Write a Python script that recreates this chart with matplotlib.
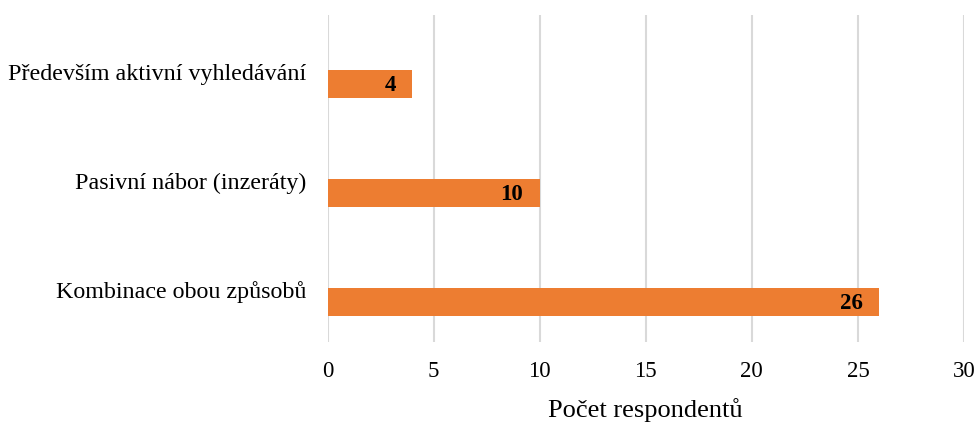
import matplotlib
matplotlib.use("Agg")
from matplotlib import pyplot as plt
from matplotlib.transforms import ScaledTranslation

categories = ["Kombinace obou způsobů", "Pasivní nábor (inzeráty)", "Především aktivní vyhledávání"]
values = [26, 10, 4]
xticks = [0, 5, 10, 15, 20, 25, 30]

plt.rcParams['font.family'] = ['Liberation Serif', 'DejaVu Serif']

fig = plt.figure(figsize=(9.78, 4.22), dpi=100)
ax = fig.add_axes([0.3349, 0.1896, 0.6508, 0.7749])

pos = list(range(len(categories)))
ax.barh(pos, values, height=0.26, color="#ED7D31", zorder=3)

for p, v in zip(pos, values):
    ax.annotate(str(v), (v, p), xytext=(-12, -1), textcoords="offset points",
                ha="right", va="center", fontsize=16.5, fontweight="bold", zorder=4)

ax.set_xlim(0, 30)
ax.set_ylim(-0.367, 2.633)
ax.set_xticks(xticks)
ax.set_xticklabels([str(t) for t in xticks], fontsize=16.5)
ax.set_yticks(pos)
ax.set_yticklabels(categories, fontsize=17.3)
ax.tick_params(axis="both", length=0)
ax.tick_params(axis="x", pad=14)
ax.tick_params(axis="y", pad=15)
ax.grid(axis="x", color="#D9D9D9", linewidth=1.5, zorder=0)
for s in ax.spines.values():
    s.set_visible(False)

# Excel puts the category labels a bit above the bar centre
shift = ScaledTranslation(0, 0.12, fig.dpi_scale_trans)
for lab in ax.get_yticklabels():
    lab.set_transform(lab.get_transform() + shift)

ax.set_xlabel("Počet respondentů", fontsize=19, labelpad=11)

plt.savefig("out.png")
